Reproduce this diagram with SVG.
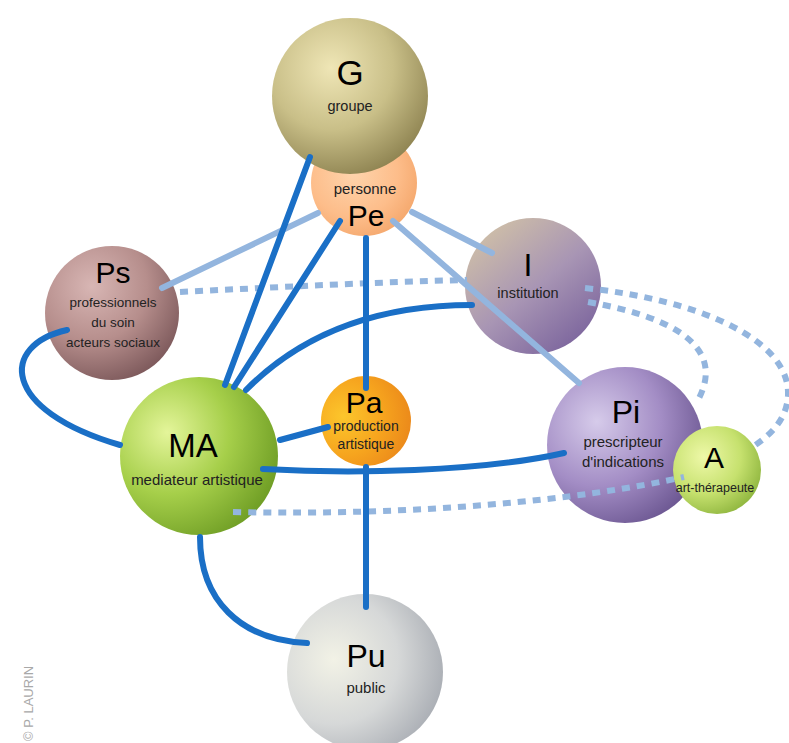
<svg xmlns="http://www.w3.org/2000/svg" width="789" height="743" viewBox="0 0 789 743">
<defs>
<radialGradient id="gG" cx="0.38" cy="0.32" r="0.72">
<stop offset="0" stop-color="#efe6b6"/><stop offset="0.55" stop-color="#c9bf88"/><stop offset="1" stop-color="#8f8452"/></radialGradient>
<radialGradient id="gPe" cx="0.4" cy="0.4" r="0.7">
<stop offset="0" stop-color="#fed4ac"/><stop offset="0.6" stop-color="#fdbd8a"/><stop offset="1" stop-color="#f3a468"/></radialGradient>
<radialGradient id="gPs" cx="0.35" cy="0.3" r="0.75">
<stop offset="0" stop-color="#d8b6b4"/><stop offset="0.55" stop-color="#b68e8c"/><stop offset="1" stop-color="#7e5a5c"/></radialGradient>
<linearGradient id="gI" x1="0.15" y1="0.1" x2="0.85" y2="0.95">
<stop offset="0" stop-color="#cdbda8"/><stop offset="0.5" stop-color="#a895b4"/><stop offset="1" stop-color="#7a639c"/></linearGradient>
<radialGradient id="gPi" cx="0.32" cy="0.35" r="0.75">
<stop offset="0" stop-color="#d6cbea"/><stop offset="0.55" stop-color="#a38dc5"/><stop offset="1" stop-color="#6a5590"/></radialGradient>
<radialGradient id="gMA" cx="0.3" cy="0.35" r="0.78">
<stop offset="0" stop-color="#e4f59a"/><stop offset="0.5" stop-color="#a6cf4a"/><stop offset="1" stop-color="#6b9a22"/></radialGradient>
<radialGradient id="gA" cx="0.35" cy="0.35" r="0.7">
<stop offset="0" stop-color="#eef8a8"/><stop offset="0.6" stop-color="#c6e16e"/><stop offset="1" stop-color="#93b942"/></radialGradient>
<radialGradient id="gPa" cx="0.25" cy="0.45" r="0.8">
<stop offset="0" stop-color="#fcc62c"/><stop offset="0.55" stop-color="#f6a41e"/><stop offset="1" stop-color="#ea861a"/></radialGradient>
<radialGradient id="gPu" cx="0.3" cy="0.42" r="0.75">
<stop offset="0" stop-color="#f2f2e6"/><stop offset="0.55" stop-color="#d6d8d8"/><stop offset="1" stop-color="#a7abb2"/></radialGradient>
</defs>
<style>
text{font-family:"Liberation Sans",Arial,sans-serif;fill:#111;text-anchor:middle}
.big{fill:#000}
.sub{fill:#222}
.dk{fill:none;stroke:#1a6fc6;stroke-width:6;stroke-linecap:round}
.lt{fill:none;stroke:#93b5de;stroke-width:6;stroke-linecap:round}
.dt{fill:none;stroke:#93b5de;stroke-width:6;stroke-dasharray:8 7}
.copy{fill:#a8a8a8;text-anchor:start}
</style>
<g id="node-Pe"><circle cx="364" cy="183" r="53" fill="url(#gPe)"/>
<text x="365" y="194" font-size="15" class="sub">personne</text>
<text x="366" y="226" font-size="30" class="big">Pe</text></g>
<g id="node-G"><circle cx="350" cy="96" r="78" fill="url(#gG)"/>
<text x="350" y="85" font-size="35" class="big">G</text>
<text x="350" y="111" font-size="14.5" class="sub">groupe</text></g>
<g id="node-Ps"><circle cx="112" cy="313" r="67" fill="url(#gPs)"/>
<text x="113" y="283" font-size="30" class="big">Ps</text>
<text x="113" y="307" font-size="13.5" class="sub">professionnels</text>
<text x="113" y="327" font-size="13.5" class="sub">du soin</text>
<text x="113" y="347" font-size="13.5" class="sub">acteurs sociaux</text></g>
<g id="node-I"><circle cx="533" cy="286" r="68" fill="url(#gI)"/>
<text x="528" y="276" font-size="32" class="big">I</text>
<text x="528" y="298" font-size="14.5" class="sub">institution</text></g>
<g id="node-MA"><circle cx="199" cy="456" r="79" fill="url(#gMA)"/>
<text x="193" y="457" font-size="33" class="big">MA</text>
<text x="197" y="485" font-size="15" class="sub">mediateur artistique</text></g>
<g id="node-Pa"><circle cx="366" cy="421" r="45" fill="url(#gPa)"/>
<text x="364" y="413" font-size="30" class="big">Pa</text>
<text x="366" y="431" font-size="14" class="sub">production</text>
<text x="366" y="449" font-size="14" class="sub">artistique</text></g>
<g id="node-Pi"><circle cx="625" cy="445" r="78" fill="url(#gPi)"/>
<text x="626" y="423" font-size="32" class="big">Pi</text>
<text x="623" y="447" font-size="15" class="sub">prescripteur</text>
<text x="623" y="467" font-size="15" class="sub">d'indications</text></g>
<g id="node-A"><circle cx="717" cy="470" r="44" fill="url(#gA)"/>
<text x="714" y="468" font-size="30" class="big">A</text>
<text x="715" y="492" font-size="12.5" class="sub">art-thérapeute</text></g>
<g id="node-Pu"><circle cx="365" cy="672" r="78" fill="url(#gPu)"/>
<text x="366" y="667" font-size="32" class="big">Pu</text>
<text x="366" y="693" font-size="15" class="sub">public</text></g>
<g id="connectors">
<path class="lt" d="M318,213 L162,288"/>
<path class="lt" d="M412,212 L492,253"/>
<path class="lt" d="M393,221 L579,383"/>
<path class="dt" d="M180,292 C280,287 380,282 467,280"/>
<path class="dt" d="M588,302 C680,318 725,350 698,400"/>
<path class="dt" d="M585,288 C700,300 790,340 788,395 C787,420 770,435 754,446"/>
<path class="dt" d="M233,512 C420,516 580,500 684,477"/>
<path class="dk" d="M310,157 L225,385"/>
<path class="dk" d="M340,221 L234,387"/>
<path class="dk" d="M472,305 Q330,305 246,390"/>
<path class="dk" d="M366,238 L366,388"/>
<path class="dk" d="M280,440 L328,427"/>
<path class="dk" d="M263,469 C350,474 480,472 564,453"/>
<path class="dk" d="M366,467 L366,607"/>
<path class="dk" d="M200,537 C200,600 240,640 307,643"/>
<path class="dk" d="M67,330 C0,345 0,410 120,445"/>
</g>
<text class="copy" font-size="13" transform="translate(33,741) rotate(-90)">© P. LAURIN</text>
</svg>
